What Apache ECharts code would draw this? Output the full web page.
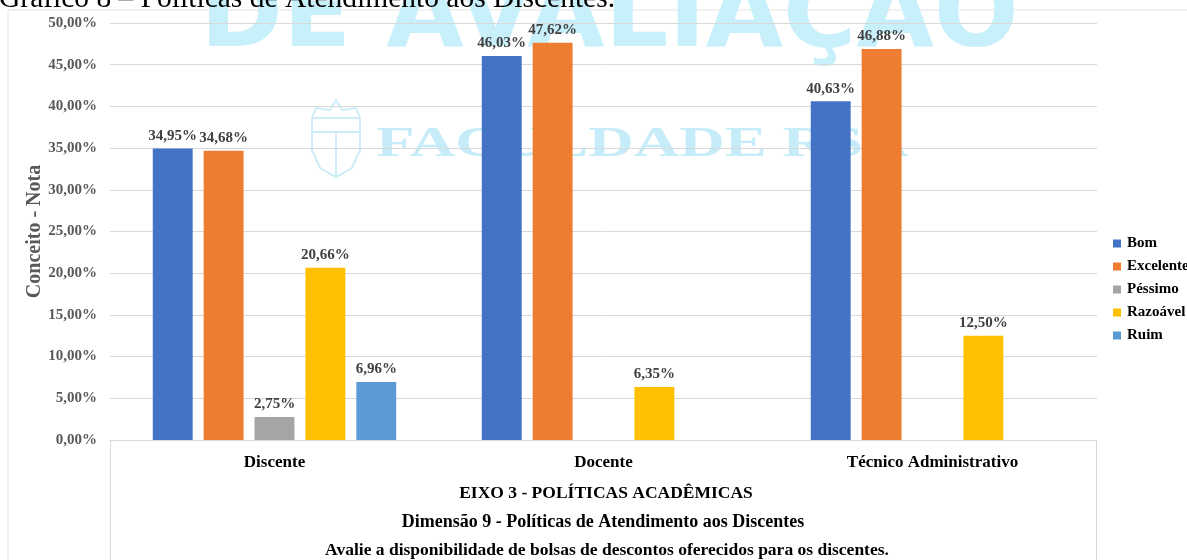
<!DOCTYPE html>
<html>
<head>
<meta charset="utf-8">
<script src="https://cdn.jsdelivr.net/npm/echarts@6/dist/echarts.min.js"></script>
<style>
  html, body { margin: 0; padding: 0; background: #fff; }
  #main { width: 1187px; height: 560px; }
</style>
</head>
<body>
<div id="main"></div>
<script>
    // categorias e séries
    var categorias = ['Discente', 'Docente', 'Técnico Administrativo'];
    var bom = [34.95, 46.03, 40.63];
    var excelente = [34.68, 47.62, 46.88];
    var pessimo = [2.75, null, null];
    var razoavel = [20.66, 6.35, 12.50];
    var ruim = [6.96, null, null];
    var yTicks = [0, 5, 10, 15, 20, 25, 30, 35, 40, 45, 50];

    var serif = '"Liberation Serif", "Times New Roman", serif';
    var marca = '#c8f0fb';

    function pct(v){
        return v.toFixed(2).replace('.', ',') + '%';
    }

    function serie(nome, dados, cor){
        return {
            name: nome,
            type: 'bar',
            data: dados,
            barGap: '27.5%',
            barCategoryGap: '26%',
            itemStyle: { color: cor },
            label: {
                show: true,
                position: 'top',
                distance: 5,
                fontFamily: serif,
                fontWeight: 'bold',
                fontSize: 15,
                color: '#404040',
                formatter: function(p){ return p.value == null ? '' : pct(p.value); }
            },
            z: 3
        };
    }

    var myChart = echarts.init(document.getElementById('main'));
    var option = {
        animation: false,
        backgroundColor: '#fff',
        grid: { left: 110, right: 90, top: 23, bottom: 120, containLabel: false },
        legend: {
            orient: 'vertical',
            left: 1108,
            top: 231,
            itemWidth: 8,
            itemHeight: 8,
            itemGap: 8,
            icon: 'rect',
            textStyle: { fontFamily: serif, fontWeight: 'bold', fontSize: 15, color: '#000', padding: [0, 0, 0, 1] },
            data: ['Bom', 'Excelente', 'Péssimo', 'Razoável', 'Ruim']
        },
        xAxis: {
            type: 'category',
            data: categorias,
            axisLine: { lineStyle: { color: '#d9d9d9' } },
            axisTick: { show: false },
            axisLabel: { fontFamily: serif, fontWeight: 'bold', fontSize: 17, color: '#000', margin: 14 }
        },
        yAxis: {
            type: 'value',
            min: yTicks[0],
            max: yTicks[yTicks.length - 1],
            interval: 5,
            name: 'Conceito - Nota',
            nameLocation: 'middle',
            nameGap: 65,
            nameMoveOverlap: false,
            nameTextStyle: { fontFamily: serif, fontWeight: 'bold', fontSize: 20, color: '#595959' },
            axisLine: { show: false },
            axisTick: { show: false },
            splitLine: { lineStyle: { color: '#d9d9d9' } },
            axisLabel: {
                fontFamily: serif, fontWeight: 'bold', fontSize: 15, color: '#595959', margin: 13,
                formatter: function(v){ return pct(v); }
            }
        },
        graphic: [
            // moldura do gráfico
            { type: 'rect', z: -10, shape: { x: 8, y: 10, width: 1300, height: 700 },
              style: { fill: '#fff', stroke: '#e3e3e3', lineWidth: 1 } },
            // marca d'água
            { type: 'text', z: -5, left: 200, top: -30,
              style: { text: 'DE AVALIAÇÃO', font: 'bold 100px "DejaVu Sans", sans-serif', fill: marca } },
            { type: 'text', z: -5, x: 376, y: 124, scaleX: 1.5,
              style: { text: 'FACULDADE RSA', font: 'bold 42px "Liberation Serif", serif', fill: '#c6ecf9' } },
            { type: 'polygon', z: -5, shape: { points: [[312, 118], [360, 118], [360, 150], [352, 168], [336, 177], [320, 168], [312, 150]] },
              style: { fill: 'none', stroke: '#cdeef9', lineWidth: 2 } },
            { type: 'polyline', z: -5, shape: { points: [[312, 118], [316, 108], [330, 110], [336, 100], [342, 110], [356, 108], [360, 118]] },
              style: { fill: 'none', stroke: '#cdeef9', lineWidth: 2 } },
            { type: 'line', z: -5, shape: { x1: 312, y1: 132, x2: 360, y2: 132 }, style: { stroke: '#cdeef9', lineWidth: 2 } },
            { type: 'line', z: -5, shape: { x1: 336, y1: 132, x2: 336, y2: 177 }, style: { stroke: '#cdeef9', lineWidth: 2 } },
            // título cortado
            { type: 'text', left: -1, top: -16,
              style: { text: 'Gráfico 8 – Políticas de Atendimento aos Discentes.', font: '29.5px "Liberation Serif", serif', fill: '#000' } },
            // caixa do eixo
            { type: 'line', shape: { x1: 110.5, y1: 440, x2: 110.5, y2: 560 }, style: { stroke: '#d9d9d9', lineWidth: 1 } },
            { type: 'line', shape: { x1: 1096.5, y1: 440, x2: 1096.5, y2: 560 }, style: { stroke: '#d9d9d9', lineWidth: 1 } },
            { type: 'text', x: 606, y: 493,
              style: { text: 'EIXO 3 - POLÍTICAS ACADÊMICAS', font: 'bold 17.5px "Liberation Serif", serif', fill: '#000', textAlign: 'center', textVerticalAlign: 'middle' } },
            { type: 'text', x: 603, y: 522,
              style: { text: 'Dimensão 9 - Políticas de Atendimento aos Discentes', font: 'bold 18px "Liberation Serif", serif', fill: '#000', textAlign: 'center', textVerticalAlign: 'middle' } },
            { type: 'text', x: 607, y: 550,
              style: { text: 'Avalie a disponibilidade de bolsas de descontos oferecidos para os discentes.', font: 'bold 17.5px "Liberation Serif", serif', fill: '#000', textAlign: 'center', textVerticalAlign: 'middle' } }
        ],
        series: [
            serie('Bom', bom, '#4472c4'),
            serie('Excelente', excelente, '#ed7d31'),
            serie('Péssimo', pessimo, '#a5a5a5'),
            serie('Razoável', razoavel, '#ffc000'),
            serie('Ruim', ruim, '#5b9bd5')
        ]
    };
    myChart.setOption(option);
</script>
</body>
</html>
